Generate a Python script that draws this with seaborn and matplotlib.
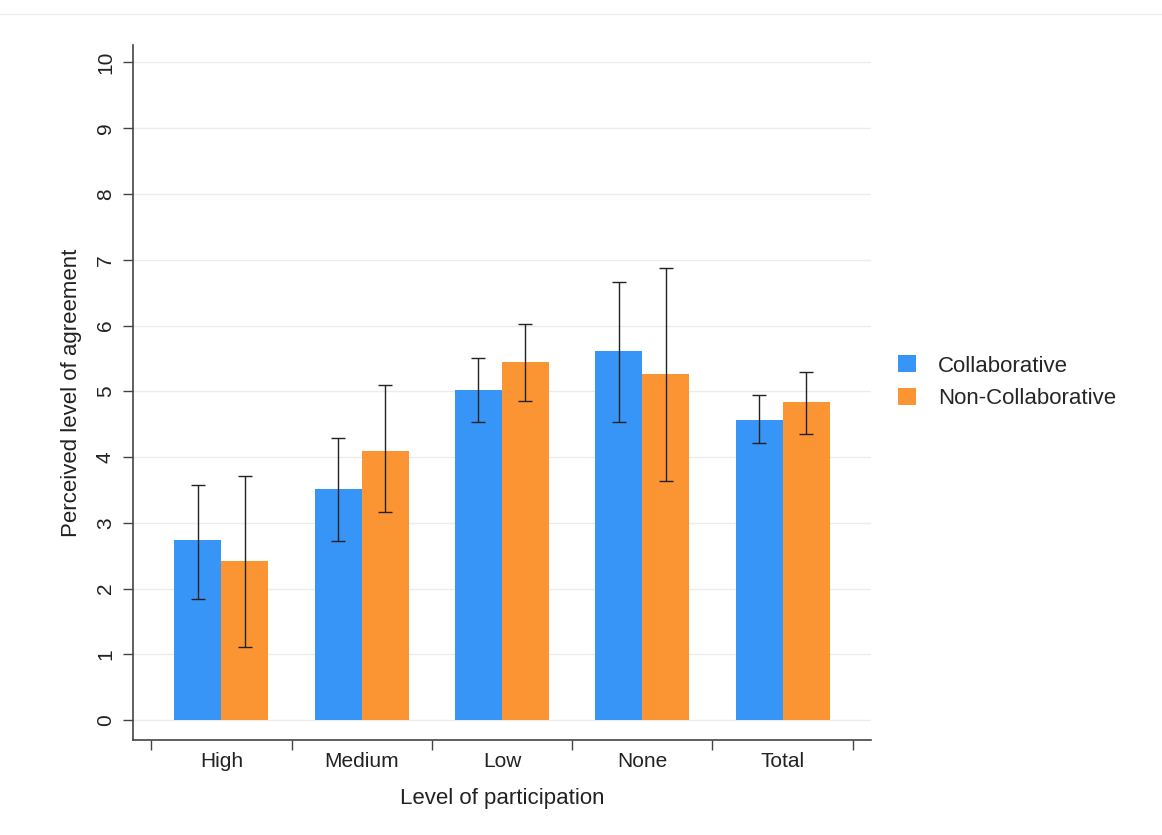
import numpy as np
import pandas as pd
import seaborn as sns
import matplotlib.pyplot as plt

levels = ["High", "Medium", "Low", "None", "Total"]
groups = ["Collaborative", "Non-Collaborative"]

collab_mean = [2.74, 3.51, 5.02, 5.61, 4.57]
collab_lo = [1.85, 2.72, 4.53, 4.53, 4.22]
collab_hi = [3.57, 4.29, 5.50, 6.66, 4.95]

noncollab_mean = [2.42, 4.10, 5.44, 5.27, 4.83]
noncollab_lo = [1.11, 3.16, 4.85, 3.63, 4.35]
noncollab_hi = [3.72, 5.09, 6.02, 6.88, 5.30]

colors = ["#3795f7", "#fb9533"]

df = pd.DataFrame({
    "level": levels * 2,
    "group": [groups[0]] * 5 + [groups[1]] * 5,
    "value": collab_mean + noncollab_mean,
})

sns.set_style("white")
plt.rcParams['font.family'] = ['Liberation Sans', 'DejaVu Sans']

fig = plt.figure(figsize=(11.62, 8.35), dpi=100)
ax = fig.add_axes([0.1145, 0.1138, 0.635, 0.832])

sns.barplot(data=df, x="level", y="value", hue="group", order=levels, hue_order=groups,
            palette=colors, errorbar=None, width=0.67, saturation=1, linewidth=0, ax=ax)

# error bars at the centre of each bar
lo_all = [collab_lo, noncollab_lo]
hi_all = [collab_hi, noncollab_hi]
mean_all = [collab_mean, noncollab_mean]
bar_containers = list(ax.containers)
for g, cont in enumerate(bar_containers):
    xs = [p.get_x() + p.get_width() / 2 for p in cont.patches]
    m = np.array(mean_all[g])
    yerr = [m - np.array(lo_all[g]), np.array(hi_all[g]) - m]
    ax.errorbar(xs, m, yerr=yerr, fmt="none", ecolor="#222222", elinewidth=1, capsize=5, capthick=1)

ax.set_xlim(-0.63, 4.63)
ax.set_ylim(-0.3, 10.26)
ax.set_yticks(range(0, 11))
ax.set_yticklabels([str(i) for i in range(0, 11)], rotation=90, va="center", fontsize=15)
ax.yaxis.grid(True, color="#ececec", linewidth=1)
ax.set_axisbelow(True)

# x ticks on category boundaries, labels at category centres
ax.set_xticks(np.arange(-0.5, 5, 1))
ax.set_xticklabels([])
ax.set_xticks(range(5), minor=True)
ax.set_xticklabels(levels, minor=True, fontsize=15)
ax.tick_params(axis="x", which="minor", bottom=False, pad=7)
ax.tick_params(axis="x", which="major", bottom=True, length=7, width=1, color="#444444", direction="out")
ax.tick_params(axis="y", left=True, length=7, width=1, color="#444444", direction="out", pad=6)
ax.tick_params(axis="both", which="both", labelcolor="#222222")

for s in ["top", "right"]:
    ax.spines[s].set_visible(False)
for s in ["left", "bottom"]:
    ax.spines[s].set_color("#444444")
    ax.spines[s].set_linewidth(1.2)

ax.set_xlabel("Level of participation", fontsize=16, labelpad=12, color="#222222")
ax.set_ylabel("Perceived level of agreement", fontsize=16, labelpad=10, color="#222222")

ax.legend(title=None, frameon=False, fontsize=16, loc="center left", bbox_to_anchor=(1.01, 0.515),
          handlelength=0.8, handleheight=0.8, handletextpad=1.0, labelspacing=0.5)

fig.add_artist(plt.Line2D([0.0, 1.0], [0.983, 0.983], color="#eeeeee", linewidth=1))

fig.savefig("out.png", dpi=100, facecolor="white")
